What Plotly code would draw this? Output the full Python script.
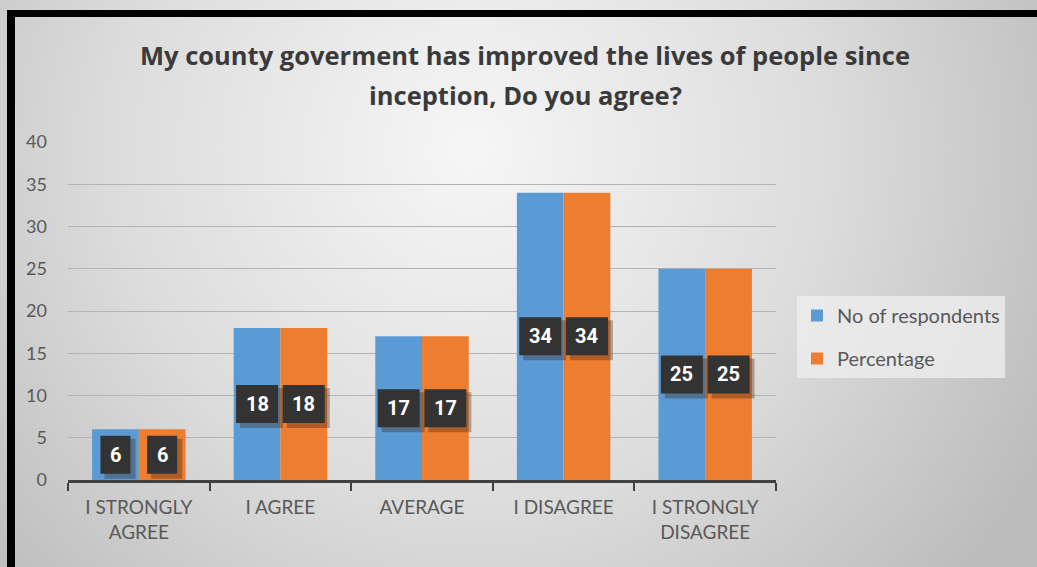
import base64
import plotly.graph_objects as go

# Survey responses
categories = ["I STRONGLY<br>AGREE", "I AGREE", "AVERAGE", "I DISAGREE", "I STRONGLY<br>DISAGREE"]
respondents = [6, 18, 17, 34, 25]
percentage = [6, 18, 17, 34, 25]
series_names = ["No of respondents", "Percentage"]
y_ticks = [0, 5, 10, 15, 20, 25, 30, 35, 40]
title_lines = ["My county goverment has improved the lives of people since",
               "inception, Do you agree?"]

W, H = 1037, 567
L, R, T, B = 68, 261, 142, 87
PW, PH = W - L - R, H - T - B
BARGAP = 0.34
BLUE, ORANGE = "#5b9bd5", "#ed7d31"
FONT = "Lato"


def px_x(px):
    return (px - L) / PW


def px_y(py):
    return (H - B - py) / PH


# soft radial grey background
svg = (
    f"<svg xmlns='http://www.w3.org/2000/svg' width='{W}' height='{H}' viewBox='0 0 {W} {H}' preserveAspectRatio='none'>"
    "<defs><radialGradient id='g' gradientUnits='userSpaceOnUse' cx='470' cy='150' r='650'>"
    "<stop offset='0' stop-color='#f6f6f6'/><stop offset='0.55' stop-color='#dcdcdc'/>"
    "<stop offset='1' stop-color='#bcbcbc'/></radialGradient></defs>"
    f"<rect x='0' y='0' width='{W}' height='{H}' fill='url(#g)'/></svg>"
)
bg_uri = "data:image/svg+xml;base64," + base64.b64encode(svg.encode()).decode()

fig = go.Figure()
fig.add_trace(go.Bar(x=categories, y=respondents, name=series_names[0],
                     marker=dict(color=BLUE, line=dict(width=0)), legendgroup="a"))
fig.add_trace(go.Bar(x=categories, y=percentage, name=series_names[1],
                     marker=dict(color=ORANGE, line=dict(width=0)), legendgroup="b"))

# value labels in dark boxes at the middle of each bar
offset = (1 - BARGAP) / 4
annotations = []
shapes = []
for i, (v1, v2) in enumerate(zip(respondents, percentage)):
    for xpos, v in ((i - offset, v1), (i + offset, v2)):
        hw = 21 if v >= 10 else 15
        shapes.append(dict(type="rect", xref="x", yref="y", xsizemode="pixel", ysizemode="pixel",
                           xanchor=xpos, yanchor=v / 2, x0=-hw + 4, x1=hw + 5, y0=-19 - 5, y1=19 - 3,
                           fillcolor="rgba(60,35,15,0.35)", line=dict(width=0), layer="above"))
        shapes.append(dict(type="rect", xref="x", yref="y", xsizemode="pixel", ysizemode="pixel",
                           xanchor=xpos, yanchor=v / 2, x0=-hw, x1=hw, y0=-19, y1=19,
                           fillcolor="#333333", line=dict(width=0), layer="above"))
        annotations.append(dict(x=xpos, y=v / 2, xref="x", yref="y", text=f"<b>{v}</b>",
                                showarrow=False,
                                font=dict(family="Roboto", size=20, color="white")))

# two-line title
for line, py in zip(title_lines, (55, 95)):
    annotations.append(dict(x=px_x(525), y=px_y(py), xref="paper", yref="paper",
                            text=f"<b>{line}</b>", showarrow=False,
                            xanchor="center", yanchor="middle",
                            font=dict(family="Open Sans", size=25.5, color="#3a3a3a")))

shapes += [
    dict(type="rect", xref="paper", yref="paper", x0=px_x(7), x1=px_x(W + 5),
         y0=px_y(10), y1=px_y(17), fillcolor="black", line=dict(width=0), layer="above"),
    dict(type="rect", xref="paper", yref="paper", x0=px_x(7), x1=px_x(15),
         y0=px_y(10), y1=px_y(H + 5), fillcolor="black", line=dict(width=0), layer="above"),
]

fig.update_layout(
    width=W, height=H,
    margin=dict(l=L, r=R, t=T, b=B, autoexpand=False),
    paper_bgcolor="white",
    plot_bgcolor="rgba(0,0,0,0)",
    barmode="group", bargap=BARGAP, bargroupgap=0,
    font=dict(family=FONT, color="#595959"),
    images=[dict(source=bg_uri, xref="paper", yref="paper",
                 x=px_x(0), y=px_y(0), sizex=W / PW, sizey=H / PH,
                 xanchor="left", yanchor="top", sizing="stretch", layer="below")],
    annotations=annotations,
    shapes=shapes,
    legend=dict(x=px_x(797), y=px_y(296), xanchor="left", yanchor="top",
                bgcolor="rgba(238,238,238,0.8)", font=dict(family=FONT, size=20, color="#595959"),
                tracegroupgap=14, itemclick=False),
    showlegend=True,
    xaxis=dict(type="category", showline=True, linecolor="#404040", linewidth=3,
               ticks="outside", tickson="boundaries", ticklen=8, tickwidth=2,
               tickcolor="#404040", showgrid=False, ticklabelstandoff=8,
               tickfont=dict(family=FONT, size=19, color="#595959")),
    yaxis=dict(range=[0, 40], tickvals=y_ticks, showgrid=True, gridcolor="#b4b4b4",
               gridwidth=1, zeroline=False, showline=False, ticks="",
               ticklabelstandoff=20,
               tickfont=dict(family=FONT, size=18, color="#595959")),
)

fig.write_html("out.html")
